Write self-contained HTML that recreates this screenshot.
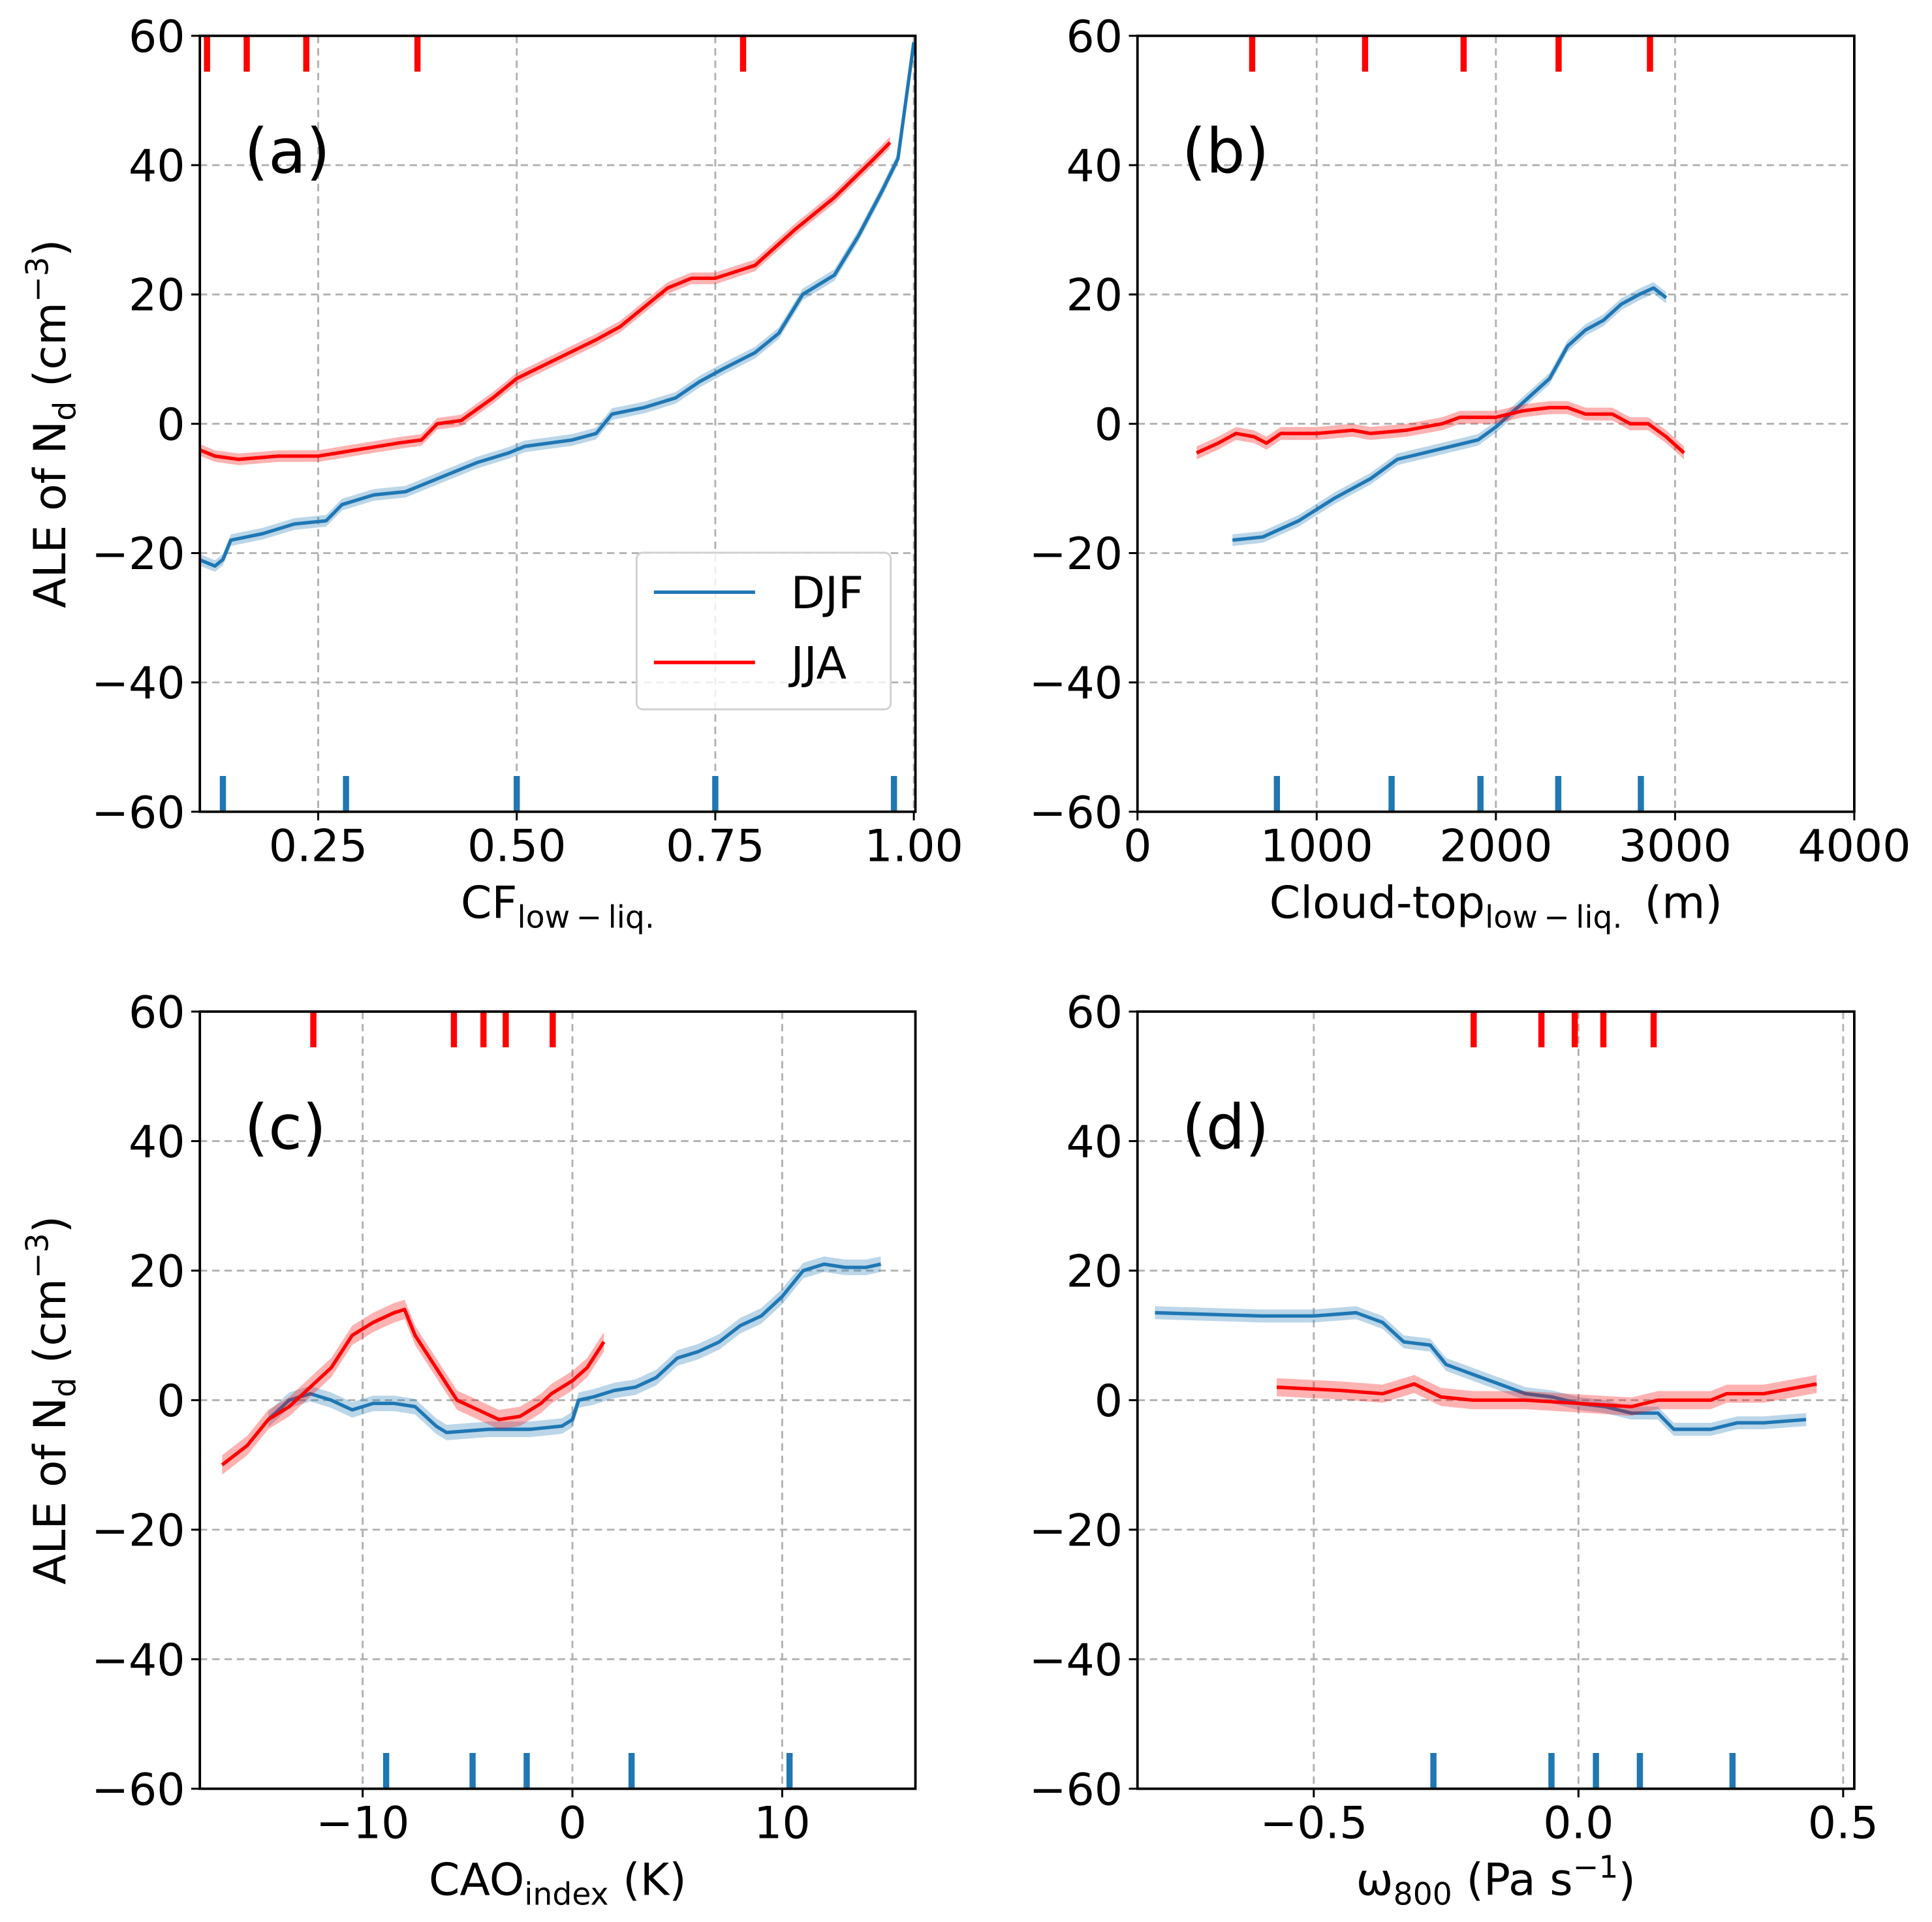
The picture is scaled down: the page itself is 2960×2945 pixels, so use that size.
<!DOCTYPE html>
<html><head><meta charset="utf-8"><style>
html,body{margin:0;padding:0;background:#fff}
svg{display:block}
text{font-family:"DejaVu Sans","Liberation Sans",sans-serif;fill:#000}
</style></head><body>
<svg id="fig" width="2960" height="2945" viewBox="0 0 1566 1558" xmlns="http://www.w3.org/2000/svg"></svg>
<script>
// ---- data ----
const aDjfX=[0.10,0.12,0.13,0.14,0.18,0.22,0.26,0.28,0.32,0.36,0.40,0.45,0.49,0.51,0.57,0.60,0.62,0.66,0.70,0.73,0.76,0.80,0.83,0.86,0.90,0.93,0.96,0.98,0.99,1.0];
const aDjfY=[-21,-22,-21,-18,-17,-15.5,-15,-12.5,-11,-10.5,-8.5,-6,-4.5,-3.5,-2.5,-1.5,1.5,2.5,4,6.5,8.5,11,14,20,23,29,36,41,50,59];
const aJjaX=[0.10,0.12,0.15,0.20,0.25,0.30,0.35,0.38,0.40,0.43,0.47,0.50,0.55,0.60,0.63,0.66,0.69,0.72,0.75,0.80,0.85,0.90,0.95,0.97];
const aJjaY=[-4,-5,-5.5,-5,-5,-4,-3,-2.5,0,0.5,4,7,10,13,15,18,21,22.5,22.5,24.5,30,35,41,43.5];
const aRugRed=[0.11,0.16,0.235,0.375,0.785];
const aRugBlue=[0.13,0.285,0.5,0.75,0.975];

const bDjfX=[530,700,900,1100,1300,1450,1600,1750,1900,2000,2100,2200,2300,2400,2500,2600,2700,2800,2880,2950];
const bDjfY=[-18,-17.5,-15,-11.5,-8.5,-5.5,-4.5,-3.5,-2.5,-0.5,2,4.5,7,12,14.5,16,18.5,20,21,19.5];
const bJjaX=[330,450,550,650,720,800,1000,1200,1300,1500,1700,1800,2000,2150,2300,2400,2500,2650,2750,2850,2950,3050];
const bJjaY=[-4.5,-3,-1.5,-2,-3,-1.5,-1.5,-1,-1.5,-1,0,1,1,2,2.5,2.5,1.5,1.5,0,0,-2,-4.5];
const bRugRed=[640,1270,1820,2350,2860];
const bRugBlue=[778,1418,1914,2348,2809];

const cDjfX=[-14.5,-13.5,-12.5,-11.5,-10.5,-9.5,-8.5,-7.5,-6.5,-6,-4,-2,-0.5,0,0.3,1,2,3,4,5,6,7,8,9,10,11,12,13,14,14.7];
const cDjfY=[-3,0,1,0,-1.5,-0.5,-0.5,-1,-4,-5,-4.5,-4.5,-4,-3,0,0.5,1.5,2,3.5,6.5,7.5,9,11.5,13,16,20,21,20.5,20.5,21];
const cJjaX=[-16.7,-15.5,-14.5,-13.5,-12.5,-11.5,-10.5,-9.5,-8.5,-8,-7.5,-6.5,-5.5,-4.5,-3.5,-2.5,-1.5,-1,0,0.7,1.5];
const cJjaY=[-10,-7,-3,-1,2,5,10,12,13.5,14,10,5,0,-1.5,-3,-2.5,-0.5,1,3,5,9];
const cRugRed=[-12.35,-5.65,-4.24,-3.18,-0.94];
const cRugBlue=[-8.88,-4.76,-2.18,2.82,10.35];

const dDjfX=[-0.8,-0.6,-0.5,-0.42,-0.37,-0.33,-0.28,-0.25,-0.2,-0.15,-0.1,-0.05,0,0.05,0.1,0.15,0.18,0.25,0.3,0.35,0.43];
const dDjfY=[13.5,13,13,13.5,12,9,8.5,5.5,4,2.5,1,0.5,-0.5,-1,-2,-2,-4.5,-4.5,-3.5,-3.5,-3];
const dJjaX=[-0.57,-0.45,-0.37,-0.31,-0.26,-0.2,-0.1,0,0.1,0.15,0.2,0.25,0.28,0.35,0.45];
const dJjaY=[2,1.5,1,2.5,0.5,0,0,-0.5,-1,0,0,0,1,1,2.5];
const dRugRed=[-0.198,-0.070,-0.007,0.047,0.142];
const dRugBlue=[-0.274,-0.051,0.033,0.116,0.291];

const yTicks=[-60,-40,-20,0,20,40,60];
const aXTicks=[0.25,0.5,0.75,1.0], aXLabels=["0.25","0.50","0.75","1.00"];
const bXTicks=[0,1000,2000,3000,4000], bXLabels=["0","1000","2000","3000","4000"];
const cXTicks=[-10,0,10], cXLabels=["\u221210","0","10"];
const dXTicks=[-0.5,0,0.5], dXLabels=["\u22120.5","0.0","0.5"];

const NS="http://www.w3.org/2000/svg";
const svg=document.getElementById('fig');
function mk(tag,attrs,parent){const e=document.createElementNS(NS,tag);for(const k in attrs)e.setAttribute(k,attrs[k]);(parent||svg).appendChild(e);return e;}
const BLUE="#1f77b4",RED="#ff0000";

function panel(o){
  const g=mk('g',{});
  
  
  const L=o.L,R=o.R,T=o.T,B=o.B;
  const sx=v=>L+(v-o.xmin)/(o.xmax-o.xmin)*(R-L);
  const sy=v=>B-(v+60)/120*(B-T);
  o.xt.forEach((t,i)=>{const x=sx(t);const l=mk('line',{x1:x,x2:x,y1:T,y2:B,stroke:'#b0b0b0','stroke-width':1.5,'stroke-dasharray':'6,4'},g);
    });
  yTicks.forEach(t=>{const y=sy(t);const l=mk('line',{x1:L,x2:R,y1:y,y2:y,stroke:'#b0b0b0','stroke-width':1.5,'stroke-dasharray':'6,4'},g);
    });
  function series(xs,ys,hw,col,name){
    let up=xs.map((x,i)=>sx(x)+','+sy(ys[i]+hw)).join(' ');
    let dn=xs.map((x,i)=>sx(x)+','+sy(ys[i]-hw)).reverse().join(' ');
    const b=mk('polygon',{points:up+' '+dn,fill:col,'fill-opacity':0.3,stroke:'none'},g);
    
    const p=mk('polyline',{points:xs.map((x,i)=>sx(x)+','+sy(ys[i])).join(' '),fill:'none',stroke:col,'stroke-width':2.8,'stroke-linejoin':'round'},g);
    
  }
  series(o.djfX,o.djfY,o.djfHw,BLUE,'djf');
  series(o.jjaX,o.jjaY,o.jjaHw,RED,'jja');
  o.rugR.forEach(v=>{const x=sx(v);const l=mk('line',{x1:x,x2:x,y1:T,y2:T+29,stroke:RED,'stroke-width':5},g);
    });
  o.rugB.forEach(v=>{const x=sx(v);const l=mk('line',{x1:x,x2:x,y1:B-29,y2:B,stroke:BLUE,'stroke-width':5},g);
    });
  const f=mk('rect',{x:L,y:T,width:R-L,height:B-T,fill:'none',stroke:'#000','stroke-width':2},g);
  
  o.xt.forEach((t,i)=>{const x=sx(t);mk('line',{x1:x,x2:x,y1:B,y2:B+7,stroke:'#000','stroke-width':1.6},g);
    const tx=mk('text',{x:x,y:B+40,'font-size':36,'text-anchor':'middle'},g);tx.textContent=o.xl[i];
    });
  yTicks.forEach(t=>{const y=sy(t);mk('line',{x1:L-7,x2:L,y1:y,y2:y,stroke:'#000','stroke-width':1.6},g);
    const tx=mk('text',{x:L-12,y:y+13,'font-size':36,'text-anchor':'end'},g);tx.textContent=(t<0?'\u2212'+(-t):''+t);
    });
  const pl=mk('text',{x:L+36,y:T+111,'font-size':50},g);pl.textContent='('+o.id+')';
  
  const xl=mk('text',{x:(L+R)/2+o.xlOff,y:B+86,'font-size':36,'text-anchor':'middle'},g);xl.innerHTML=o.xlabel;
  
  if(o.ylab){const yl=mk('text',{x:0,y:0,'font-size':36,'text-anchor':'middle',transform:`translate(53,${(T+B)/2}) rotate(-90)`},g);
    yl.innerHTML='ALE of N<tspan font-size="25" dy="8">d</tspan><tspan dy="-8"> (cm</tspan><tspan font-size="25" dy="-14">\u22123</tspan><tspan dy="14">)</tspan>';
    }
}
panel({id:'a',L:162,R:742,T:29,B:658,xmin:0.101,xmax:1.002,xt:aXTicks,xl:aXLabels,djfX:aDjfX,djfY:aDjfY,djfHw:0.9,jjaX:aJjaX,jjaY:aJjaY,jjaHw:0.9,rugR:aRugRed,rugB:aRugBlue,ylab:true,xlOff:0,
  xlabel:'CF<tspan font-size="25" dy="8">low\u2009\u2212\u2009liq.</tspan>'});
panel({id:'b',L:922,R:1503,T:29,B:658,xmin:0,xmax:4000,xt:bXTicks,xl:bXLabels,djfX:bDjfX,djfY:bDjfY,djfHw:0.9,jjaX:bJjaX,jjaY:bJjaY,jjaHw:1.0,rugR:bRugRed,rugB:bRugBlue,ylab:false,xlOff:0,
  xlabel:'Cloud-top<tspan font-size="25" dy="8">low\u2009\u2212\u2009liq.</tspan><tspan dy="-8">\u2002(m)</tspan>'});
panel({id:'c',L:162,R:742,T:820,B:1450,xmin:-17.76,xmax:16.35,xt:cXTicks,xl:cXLabels,djfX:cDjfX,djfY:cDjfY,djfHw:1.2,jjaX:cJjaX,jjaY:cJjaY,jjaHw:1.5,rugR:cRugRed,rugB:cRugBlue,ylab:true,xlOff:0,
  xlabel:'CAO<tspan font-size="25" dy="8">index</tspan><tspan dy="-8"> (K)</tspan>'});
panel({id:'d',L:922,R:1503,T:820,B:1450,xmin:-0.833,xmax:0.521,xt:dXTicks,xl:dXLabels,djfX:dDjfX,djfY:dDjfY,djfHw:1.0,jjaX:dJjaX,jjaY:dJjaY,jjaHw:1.4,rugR:dRugRed,rugB:dRugBlue,ylab:false,xlOff:0,
  xlabel:'\u03c9<tspan font-size="25" dy="8">800</tspan><tspan dy="-8"> (Pa s</tspan><tspan font-size="25" dy="-14">\u22121</tspan><tspan dy="14">)</tspan>'});
const lg=mk('g',{});


mk('rect',{x:516,y:448,width:206,height:127,rx:5,fill:'#fff','fill-opacity':0.8,stroke:'#d0d0d0','stroke-width':1.5},lg);
const e1=mk('line',{x1:530,x2:612,y1:480,y2:480,stroke:BLUE,'stroke-width':2.8},lg);

const t1=mk('text',{x:641,y:493,'font-size':36},lg);t1.textContent='DJF';
const e2=mk('line',{x1:530,x2:612,y1:537,y2:537,stroke:RED,'stroke-width':2.8},lg);

const t2=mk('text',{x:641,y:550,'font-size':36},lg);t2.textContent='JJA';
</script>
</body></html>
